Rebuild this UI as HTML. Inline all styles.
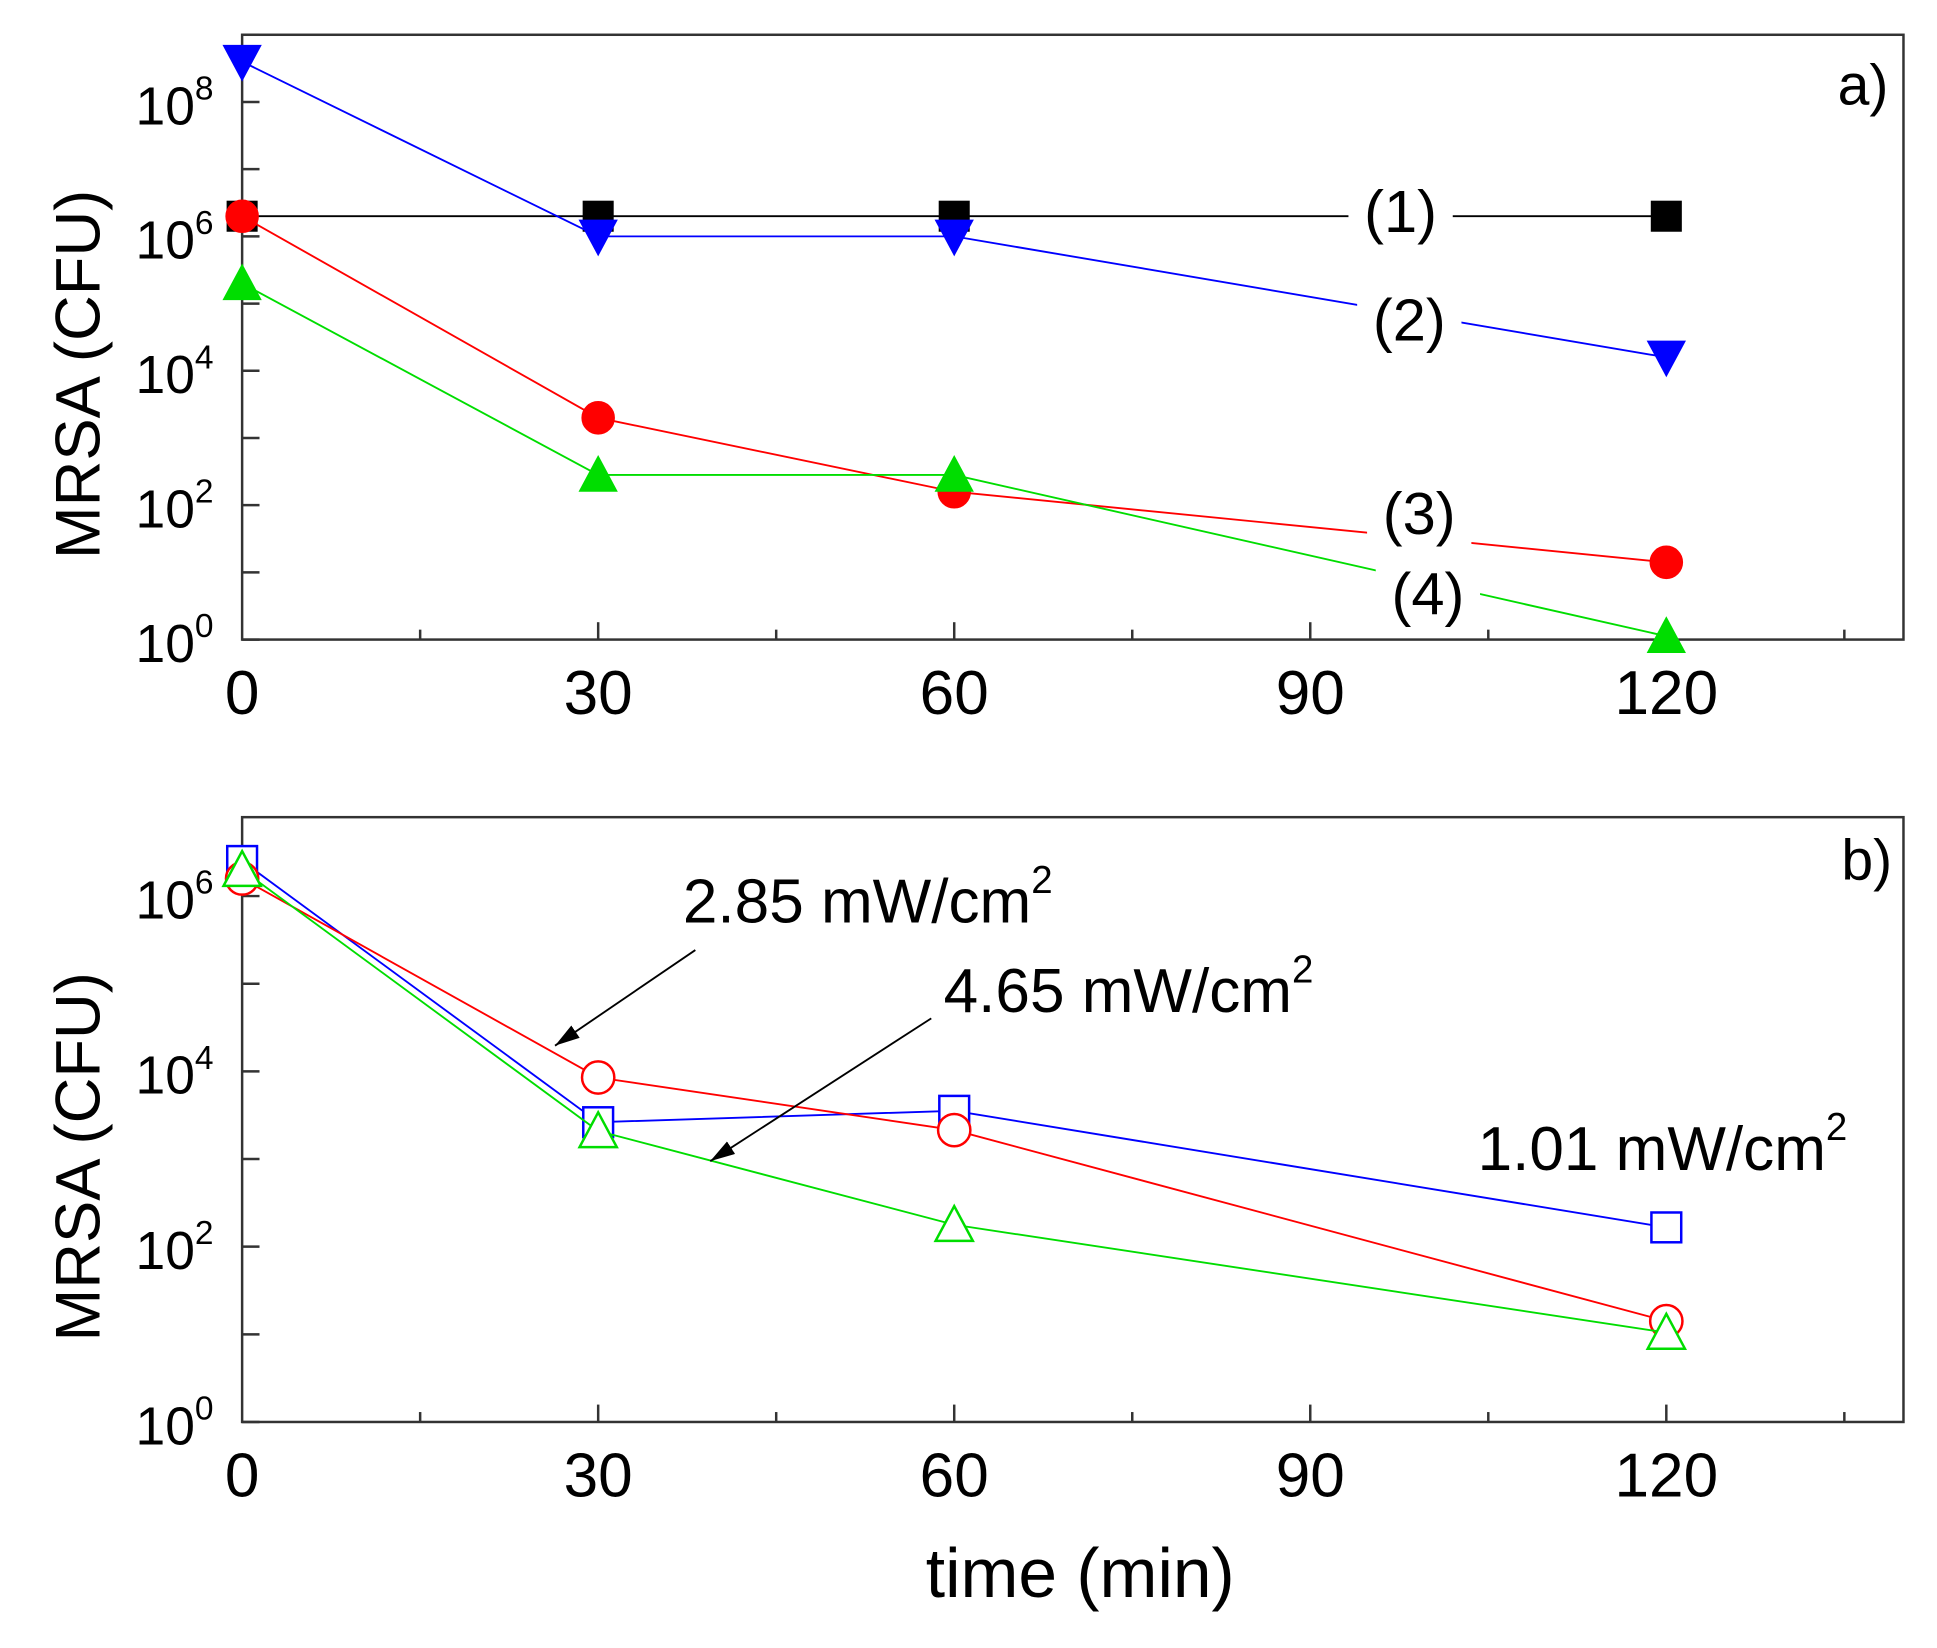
<!DOCTYPE html>
<html><head><meta charset="utf-8"><style>
html,body{margin:0;padding:0;background:#fff}
svg{display:block}
text{font-family:"Liberation Sans",Arial,sans-serif;fill:#000}
</style></head><body>
<svg id="chart" width="1937" height="1648" viewBox="0 0 1560 1327" preserveAspectRatio="none" xmlns="http://www.w3.org/2000/svg"></svg>
<script>
const times = [0, 30, 60, 120];
const xTicks = [0, 30, 60, 90, 120];
// panel a values, log10(CFU)
const aSeries1 = [6.3, 6.3, 6.3, 6.3];
const aSeries2 = [8.6, 6.0, 6.0, 4.2];
const aSeries3 = [6.3, 3.3, 2.2, 1.15];
const aSeries4 = [5.3, 2.45, 2.45, 0.05];
// panel b values, log10(CFU)
const b101 = [6.4, 3.42, 3.55, 2.22];
const b285 = [6.2, 3.93, 3.33, 1.15];
const b465 = [6.3, 3.32, 2.25, 1.02];
const aYTicks = [0, 2, 4, 6, 8];
const bYTicks = [0, 2, 4, 6];

const NS = "http://www.w3.org/2000/svg";
const svg = document.getElementById('chart');
function el(tag, attrs, parent) {
  const e = document.createElementNS(NS, tag);
  for (const k in attrs) e.setAttribute(k, attrs[k]);
  (parent || svg).appendChild(e);
  return e;
}
const X0 = 195, X1 = 1533, PXMIN = (1342 - 195) / 120;
const sx = t => X0 + t * PXMIN;

function panel(name, top, bottom, yMax, yTicks) {
  const g = el('g', {});
  
  
  const dec = (bottom - top) / yMax;
  const sy = v => bottom - v * dec;
  const frame = el('rect', {x: X0, y: top, width: X1 - X0, height: bottom - top, fill: 'none', stroke: '#333', 'stroke-width': 2}, g);
  
  
  for (let d = 0; d <= Math.floor(yMax); d++) {
    const t = el('line', {x1: X0, x2: X0 + 14, y1: sy(d), y2: sy(d), stroke: '#333', 'stroke-width': 2}, g);
    
    
  }
  yTicks.forEach(d => {
    const tx = el('text', {x: 172, y: sy(d) + 18, 'text-anchor': 'end', 'font-size': 43}, g);
    
    
    tx.innerHTML = '10<tspan dy="-20" font-size="27">' + d + '</tspan>';
  });
  for (let t = 15; t <= 135; t += 15) {
    const major = t % 30 === 0;
    const l = el('line', {x1: sx(t), x2: sx(t), y1: bottom, y2: bottom - (major ? 14 : 8), stroke: '#333', 'stroke-width': 2}, g);
    
    
  }
  xTicks.forEach(t => {
    const tx = el('text', {x: sx(t), y: bottom + 60, 'text-anchor': 'middle', 'font-size': 50}, g);
    
    
    tx.textContent = t;
  });
  const yt = el('text', {x: 0, y: 0, 'text-anchor': 'middle', 'font-size': 51, transform: 'translate(80,' + ((top + bottom) / 2 + 30) + ') rotate(-90)'}, g);
  
  
  yt.textContent = 'MRSA (CFU)';
  return {g, sy};
}

function series(p, vals, color, marker, filled, name) {
  const sg = el('g', {}, p.g);
  
  
  const pts = times.map((t, i) => sx(t) + ',' + p.sy(vals[i])).join(' ');
  const pl = el('polyline', {points: pts, fill: 'none', stroke: color, 'stroke-width': 1.5}, sg);
  
  
  times.forEach((t, i) => {
    const x = sx(t), y = p.sy(vals[i]);
    const fill = filled ? color : '#fff';
    const st = {fill: fill, stroke: color, 'stroke-width': filled ? 1 : 2};
    let m;
    if (marker === 'square') m = el('rect', Object.assign({x: x - 12, y: y - 12, width: 24, height: 24}, st), sg);
    else if (marker === 'circle') m = el('circle', Object.assign({cx: x, cy: y, r: 13}, st), sg);
    else if (marker === 'up') m = el('polygon', Object.assign({points: (x - 15) + ',' + (y + 13) + ' ' + (x + 15) + ',' + (y + 13) + ' ' + x + ',' + (y - 15)}, st), sg);
    else m = el('polygon', Object.assign({points: (x - 15) + ',' + (y - 13) + ' ' + (x + 15) + ',' + (y - 13) + ' ' + x + ',' + (y + 15)}, st), sg);
    
    
  });
}

function label(parent, x, y, txt, size, name, sup) {
  const t = el('text', {x: x, y: y, 'font-size': size}, parent);
  
  
  t.innerHTML = txt + (sup ? '<tspan dy="-24" font-size="31">2</tspan>' : '');
  return t;
}

// Panel a
const pa = panel('panel-a', 28, 515, 9, aYTicks);
series(pa, aSeries1, '#000', 'square', true, 'series-1');
series(pa, aSeries2, '#0000ff', 'down', true, 'series-2');
series(pa, aSeries3, '#ff0000', 'circle', true, 'series-3');
series(pa, aSeries4, '#00dd00', 'up', true, 'series-4');
[['(1)', 1128, 170], ['(2)', 1135, 257], ['(3)', 1143, 413], ['(4)', 1150, 478]].forEach(([s, x, y], i) => {
  const bg = el('rect', {x: x - 42, y: y - 26, width: 84, height: 52, fill: '#fff'}, pa.g);
  
  
  const t = el('text', {x: x, y: y + 17, 'text-anchor': 'middle', 'font-size': 48}, pa.g);
  
  
  t.textContent = s;
});
label(pa.g, 1480, 84, 'a)', 46, 'panel-label-a', false);

// Panel b
const pb = panel('panel-b', 658, 1145, 6.9, bYTicks);
series(pb, b101, '#0000ff', 'square', false, 'series-1-01');
series(pb, b285, '#ff0000', 'circle', false, 'series-2-85');
series(pb, b465, '#00dd00', 'up', false, 'series-4-65');
label(pb.g, 1483, 708, 'b)', 46, 'panel-label-b', false);
label(pb.g, 550, 743, '2.85 mW/cm', 50, 'label-2-85', true);
label(pb.g, 760, 815, '4.65 mW/cm', 50, 'label-4-65', true);
label(pb.g, 1190, 942, '1.01 mW/cm', 50, 'label-1-01', true);
const defs = el('defs', {});
const mk2 = el('marker', {id: 'ah2', markerWidth: 20, markerHeight: 12, refX: 20, refY: 6, orient: 'auto', markerUnits: 'userSpaceOnUse'}, defs);
el('path', {d: 'M0,0 L20,6 L0,12 Z', fill: '#000'}, mk2);
const a1 = el('line', {x1: 560, y1: 765, x2: 447, y2: 842, stroke: '#000', 'stroke-width': 1.5, 'marker-end': 'url(#ah2)'}, pb.g);


const a2 = el('line', {x1: 750, y1: 820, x2: 572, y2: 935, stroke: '#000', 'stroke-width': 1.5, 'marker-end': 'url(#ah2)'}, pb.g);



const xt = el('text', {x: 870, y: 1286, 'text-anchor': 'middle', 'font-size': 56});


xt.textContent = 'time (min)';
</script>
</body></html>
